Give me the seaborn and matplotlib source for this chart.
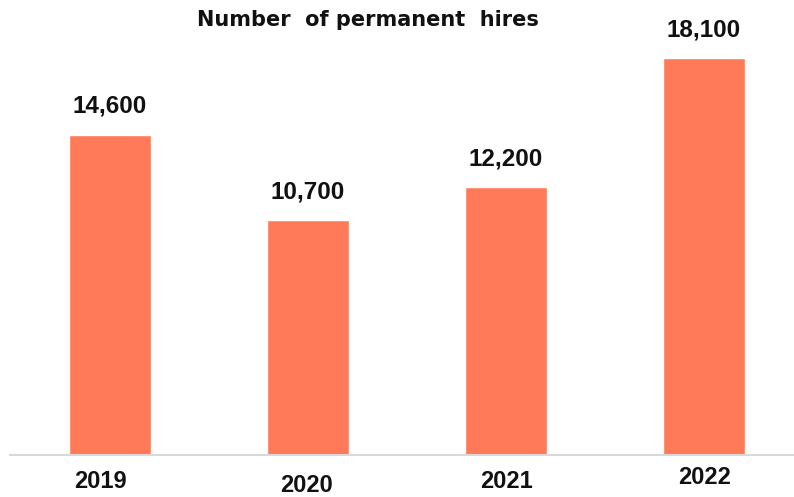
import matplotlib
matplotlib.use("Agg")
import matplotlib.pyplot as plt
import matplotlib.transforms as mtransforms
import seaborn as sns
import pandas as pd

# Data
years = ["2019", "2020", "2021", "2022"]
hires = [14600, 10700, 12200, 18100]
value_labels = ["14,600", "10,700", "12,200", "18,100"]

df = pd.DataFrame({"year": years, "hires": hires})

sns.set_theme(style="white")
plt.rcParams["font.family"] = ["Liberation Sans", "DejaVu Sans"]

DPI = 100
fig = plt.figure(figsize=(7.94, 4.97), dpi=DPI)
ax = fig.add_axes([10 / 794, 1 - 455 / 497, 1 - 10 / 794, 455 / 497])

sns.barplot(data=df, x="year", y="hires", color="#FF7A59", saturation=1,
            width=0.41, ax=ax)

ax.set_xlim(-0.505, 3.455)
ax.set_ylim(0, 20750)
ax.set_xlabel("")
ax.set_ylabel("")
ax.set_yticks([])

for s in ["top", "right", "left"]:
    ax.spines[s].set_visible(False)
ax.spines["bottom"].set_color("#D9D9D9")
ax.spines["bottom"].set_linewidth(1.5)

# Year labels under the baseline, slightly staggered
ax.tick_params(axis="x", length=0, pad=0)
ax.set_xticks(range(len(years)))
ax.set_xticklabels(years, fontsize=17, fontweight="bold", color="#111111",
                   va="center")
label_dx = [-10, -1, 1, 1]
label_dy = [-27, -30, -27, -23]
for lab, dx, dy in zip(ax.get_xticklabels(), label_dx, label_dy):
    off = mtransforms.ScaledTranslation(dx / DPI, dy / DPI, fig.dpi_scale_trans)
    lab.set_transform(lab.get_transform() + off)

# Value labels above the bars
for i, (v, txt) in enumerate(zip(hires, value_labels)):
    ax.annotate(txt, xy=(i, v), xytext=(0, 20.5), textcoords="offset points",
                ha="center", va="center", fontsize=17.5, fontweight="bold",
                color="#111111")

fig.text(368 / 794, 1 - 20 / 497, "Number  of permanent  hires",
         ha="center", va="center", fontsize=15, fontweight="bold",
         family=["DejaVu Sans"], color="#111111")

fig.savefig("out.png", dpi=DPI)
